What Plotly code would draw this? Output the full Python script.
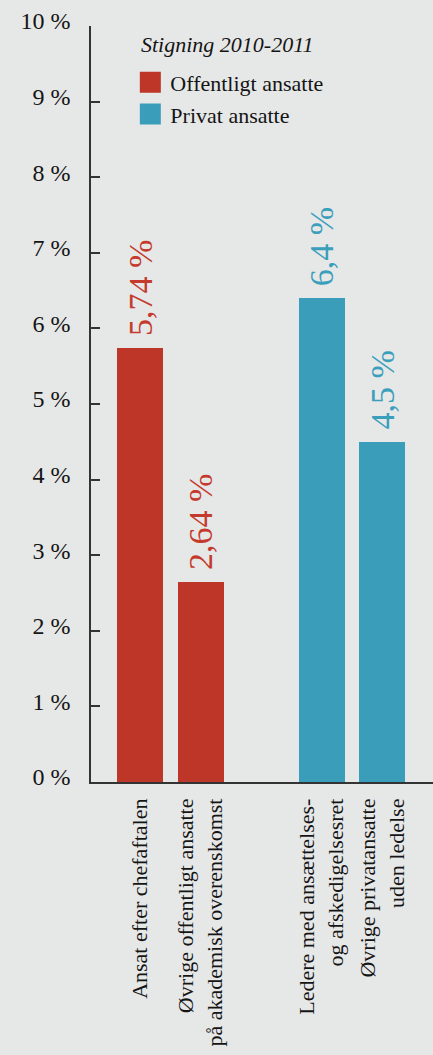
import plotly.graph_objects as go

# ---- data ----
public_labels = ["Ansat efter chefaftalen",
                 "Øvrige offentligt ansatte<br>på akademisk overenskomst"]
public_values = [5.74, 2.64]
public_text = ["5,74 %", "2,64 %"]

private_labels = ["Ledere med ansættelses-<br>og afskedigelsesret",
                  "Øvrige privatansatte<br>uden ledelse"]
private_values = [6.4, 4.5]
private_text = ["6,4 %", "4,5 %"]

series_names = ["Offentligt ansatte", "Privat ansatte"]
legend_title = "Stigning 2010-2011"

y_ticks = [0, 1, 2, 3, 4, 5, 6, 7, 8, 9, 10]
y_tick_labels = ["0 %", "1 %", "2 %", "3 %", "4 %", "5 %", "6 %", "7 %", "8 %", "9 %", "10 %"]

# ---- styling ----
RED = "#bd3628"
BLUE = "#3a9eba"
RED_TXT = "#c43a2c"
BLUE_TXT = "#3a9fbb"
BG = "#e6e7e7"
FONT = "Liberation Serif"
TXT = "#151515"

pub_x = list(range(len(public_values)))
priv_x = [len(public_values) + 1 + i for i in range(len(private_values))]

fig = go.Figure()
fig.add_trace(go.Bar(x=pub_x, y=public_values, width=0.76,
                     marker=dict(color=RED, line=dict(width=0)),
                     showlegend=False, hoverinfo="skip"))
fig.add_trace(go.Bar(x=priv_x, y=private_values, width=0.76,
                     marker=dict(color=BLUE, line=dict(width=0)),
                     showlegend=False, hoverinfo="skip"))

# legend entries
for name, col in zip(series_names, [RED, BLUE]):
    fig.add_trace(go.Scatter(x=[None], y=[None], mode="markers", name=name,
                             marker=dict(symbol="square", size=16, color=col,
                                         line=dict(color=col, width=5))))

# value labels
for xs, vals, txts, col in [(pub_x, public_values, public_text, RED_TXT),
                            (priv_x, private_values, private_text, BLUE_TXT)]:
    for x, v, t in zip(xs, vals, txts):
        fig.add_annotation(x=x, y=v, text=t, textangle=-90, showarrow=False,
                           xanchor="center", yanchor="bottom", yshift=10,
                           font=dict(family=FONT, size=34, color=col))

# legend title
fig.add_annotation(x=0.14, y=0.975, xref="paper", yref="paper",
                   xanchor="left", yanchor="middle", showarrow=False,
                   text=legend_title,
                   font=dict(family=FONT, size=22, style="italic", color=TXT))

fig.update_layout(
    width=433, height=1055,
    margin=dict(l=91, r=0, t=26, b=273),
    paper_bgcolor=BG, plot_bgcolor=BG,
    font=dict(family=FONT, color=TXT),
    bargap=0,
    legend=dict(
        x=0.115, y=0.953, xanchor="left", yanchor="top",
        bgcolor="rgba(0,0,0,0)",
        font=dict(family=FONT, size=22, color=TXT),
        itemclick=False, tracegroupgap=0,
    ),
    xaxis=dict(
        range=[-0.81, 4.84],
        tickmode="array",
        tickvals=pub_x + priv_x,
        ticktext=public_labels + private_labels,
        tickangle=-90,
        tickfont=dict(family=FONT, size=22, color=TXT),
        showgrid=False, zeroline=False, automargin=False,
        showline=True, linecolor="#333333", linewidth=1.5,
        ticks="", ticklabelstandoff=6,
    ),
    yaxis=dict(
        range=[0, 10],
        tickmode="array",
        tickvals=y_ticks,
        ticktext=y_tick_labels,
        tickfont=dict(family=FONT, size=24, color=TXT),
        showgrid=False, zeroline=False, automargin=False,
        showline=True, linecolor="#333333", linewidth=1.5,
        ticks="inside", ticklen=9, tickcolor="#333333", tickwidth=1.5,
        ticklabelstandoff=14, ticklabelshift=-5,
    ),
)

fig.write_html("out.html")
